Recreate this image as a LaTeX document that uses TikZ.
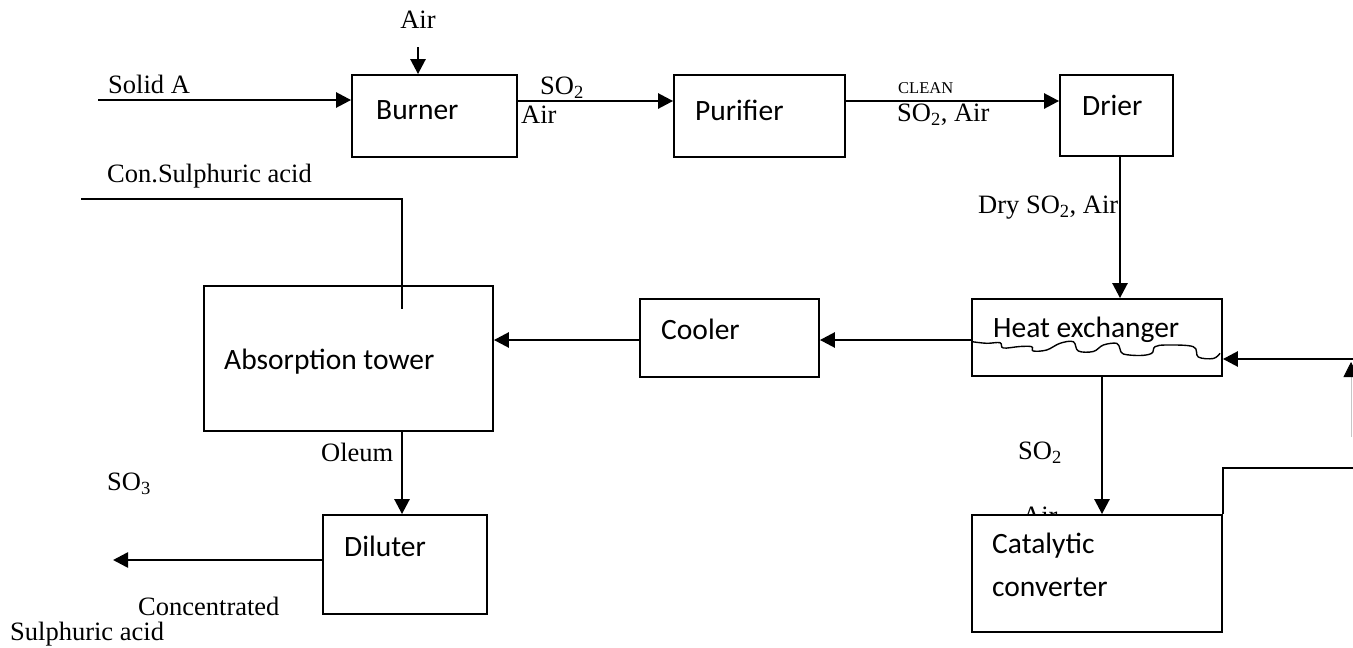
\documentclass[tikz,border=0pt]{standalone}
\usepackage{fontspec}
\setmainfont{Liberation Serif}
\newfontfamily\boxfont{Carlito}
\usetikzlibrary{arrows.meta}
\begin{document}
\begin{tikzpicture}[x=1pt,y=-1pt,
 unit/.style={draw, line width=1.8pt, fill=white, inner sep=0pt},
 flow/.style={line width=2.6pt, -{Triangle[length=15pt,width=15pt]}},
 pipe/.style={line width=1.8pt},
 lbl/.style={font=\fontsize{26.5}{30}\selectfont, inner sep=0pt, anchor=west},
 small/.style={font=\fontsize{16.5}{18}\selectfont, inner sep=0pt, anchor=west},
 ulbl/.style={font=\boxfont\fontsize{29.5}{34}\selectfont, inner sep=0pt, anchor=west},
 ]
\useasboundingbox (0,0) rectangle (1353,648);

% partly hidden label (drawn before the converter box)
\node[lbl, anchor=base west] (airC) at (1022,524) {Air};

% units
\node[unit, minimum width=165pt, minimum height=82pt] (burner) at (434.5,116) {};
\node[unit, minimum width=171pt, minimum height=82pt] (purifier) at (759.5,116) {};
\node[unit, minimum width=113pt, minimum height=81pt] (drier) at (1116.5,115.5) {};
\node[unit, minimum width=250pt, minimum height=77pt] (HE) at (1097,337.5) {};
\node[unit, minimum width=179pt, minimum height=78pt] (cooler) at (729.5,338) {};
\node[unit, minimum width=289pt, minimum height=145pt] (absorb) at (348.5,358.5) {};
\node[unit, minimum width=164pt, minimum height=99pt] (diluter) at (405,564.5) {};
\node[unit, minimum width=250pt, minimum height=117pt] (cat) at (1097,573.5) {};

% unit texts
\node[ulbl] (tBurner) at (376,110) {Burner};
\node[ulbl] (tPurifier) at (695,110) {Purifier};
\node[ulbl] (tDrier) at (1082,105) {Drier};
\node[ulbl] (tHE) at (993,330) {Heat exchanger};
\node[ulbl] (tCooler) at (661,329) {Cooler};
\node[ulbl] (tAbs) at (224,362) {Absorption tower};
\node[ulbl] (tDil) at (344,546) {Diluter};
\node[ulbl] (tCat1) at (992,546) {Catalytic};
\node[ulbl] (tCat2) at (992,587) {converter};

% wavy line in heat exchanger
\draw[line width=1.4pt] plot[smooth, tension=0.6] coordinates {
 (972,341.7) (986.7,343.3) (1000,342.7) (1003.3,348) (1020,346.5) (1031.7,346.7)
 (1033.3,351) (1046.7,350) (1060,343.3) (1073.3,341.7) (1078.3,351) (1093.3,351.5)
 (1103.3,345) (1116.7,343.3) (1120,349) (1123.3,354) (1140,355.5) (1151.7,353.3)
 (1155,346.7) (1166.7,345) (1193.3,346.7) (1198.3,357) (1213.3,358.5) (1220,353.3)};

% helper coordinates
\coordinate (sA) at (98,100);
\coordinate (airT) at (418,47);
\coordinate (yTop) at (0,101);
\coordinate (dX) at (1120,0);
\coordinate (oX) at (402,0);
\coordinate (conS) at (81,199);
\coordinate (conE) at (402,309);
\coordinate (outE) at (113,560);
\coordinate (cX) at (1102,0);
\coordinate (retR) at (1353,468);
\coordinate (upB) at (1351,437);
\coordinate (upT) at (1351,362);
\coordinate (retT) at (1353,359);
\coordinate (yMid) at (0,340);

% connectors
\draw[flow] (sA) -- (sA -| burner.west);
\draw[flow] (airT) -- (airT |- burner.north);
\draw[flow] (burner.east |- yTop) -- (purifier.west |- yTop);
\draw[flow] (purifier.east |- yTop) -- (drier.west |- yTop);
\draw[flow] (drier.south -| dX) -- (HE.north -| dX);
\draw[flow] (HE.west |- yMid) -- (cooler.east |- yMid);
\draw[flow] (cooler.west |- yMid) -- (absorb.east |- yMid);
\draw[pipe] (conS) -- (conS -| oX) -- (conE);
\draw[flow] (absorb.south -| oX) -- (diluter.north -| oX);
\draw[flow] (diluter.west |- outE) -- (outE);
\draw[flow] (HE.south -| cX) -- (cat.north -| cX);
\draw[pipe] (cat.north east) -- (cat.north east |- retR) -- (retR);
\draw[line width=0.8pt, draw=gray!45, -{Triangle[length=15pt,width=15pt,color=black]}] (upB) -- (upT);
\draw[flow] (retT) -- (retT -| HE.east);

% stream labels
\node[lbl, anchor=center] (lAir) at (418,20) {Air};
\node[lbl] (lSolid) at (108,84) {Solid A};
\node[lbl] (lSO2a) at (540,88) {SO\textsubscript{2}};
\node[lbl] (lAira) at (521,115) {Air};
\node[small] (lClean) at (898,88) {CLEAN};
\node[lbl] (lSO2b) at (897,115) {SO\textsubscript{2}, Air};
\node[lbl] (lDry) at (978,208) {Dry SO\textsubscript{2}, Air};
\node[lbl] (lCon) at (107,176) {Con.Sulphuric acid};
\node[lbl] (lOleum) at (321,452) {Oleum};
\node[lbl] (lSO3) at (107,484) {SO\textsubscript{3}};
\node[lbl] (lConc) at (138,606) {Concentrated};
\node[lbl] (lSulph) at (10,634) {Sulphuric acid};
\node[lbl] (lSO2c) at (1018,453) {SO\textsubscript{2}};
\end{tikzpicture}
\end{document}
